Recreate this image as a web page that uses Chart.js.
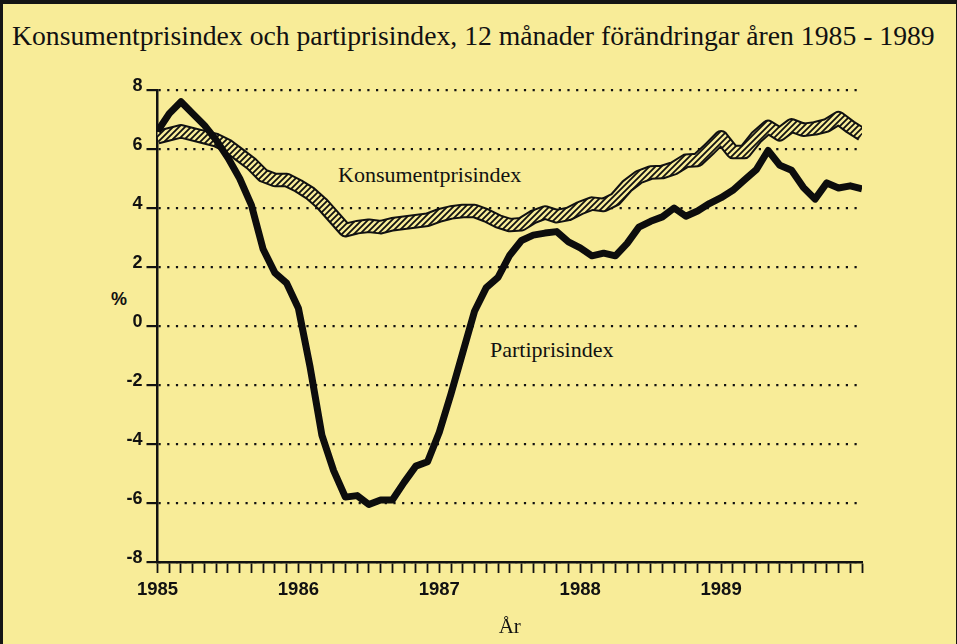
<!DOCTYPE html>
<html>
<head>
<meta charset="utf-8">
<script src="https://cdn.jsdelivr.net/npm/chart.js@4.4.0/dist/chart.umd.min.js"></script>
<style>
  body { margin: 0; background: #f8ec98; }
  #frame { position: absolute; left: 0; top: 0; width: 957px; height: 644px; box-sizing: border-box;
           border: 3px solid #151515; border-bottom: none; border-top-width: 4px; border-right-width: 1px; }
  .serif { position: absolute; font-family: "Liberation Serif", serif; color: #111; white-space: nowrap; }
  #title { left: 12px; top: 21px; font-size: 27.7px; line-height: 30px; }
  #pct { position: absolute; left: 111px; top: 289px; font: bold 18px "Liberation Sans", sans-serif; color: #111; }
  #kpiLabel { left: 338px; top: 161px; font-size: 22px; line-height: 28px; }
  #ppiLabel { left: 490px; top: 336px; font-size: 22px; line-height: 28px; }
  #c { position: absolute; left: 0; top: 0; }
</style>
</head>
<body>
<div id="frame"></div>
<div id="title" class="serif">Konsumentprisindex och partiprisindex, 12 månader förändringar åren 1985 - 1989</div>
<div id="pct">%</div>
<div id="kpiLabel" class="serif">Konsumentprisindex</div>
<div id="ppiLabel" class="serif">Partiprisindex</div>
<canvas id="c" width="957" height="644"></canvas>
<script>
// monthly 12-month changes, Jan 1985 .. Jan 1990
var yearLabels = ['1985', '1986', '1987', '1988', '1989'];
var kpi = [6.4, 6.5, 6.6, 6.5, 6.4, 6.3, 6.1, 5.8, 5.5, 5.1,
           4.95, 4.95, 4.75, 4.5, 4.15, 3.7, 3.25, 3.35, 3.4, 3.35,
           3.45, 3.5, 3.55, 3.6, 3.75, 3.85, 3.9, 3.9, 3.75, 3.55,
           3.42, 3.45, 3.7, 3.85, 3.72, 3.8, 4.0, 4.15, 4.1, 4.3,
           4.75, 5.05, 5.2, 5.22, 5.35, 5.6, 5.63, 6.0, 6.4, 5.9,
           5.9, 6.4, 6.75, 6.5, 6.8, 6.65, 6.7, 6.8, 7.05, 6.75, 6.5];
var ppi = [6.6, 7.2, 7.6, 7.2, 6.8, 6.3, 5.7, 5.0, 4.1, 2.6,
           1.8, 1.45, 0.6, -1.4, -3.7, -4.9, -5.8, -5.75, -6.05, -5.9,
           -5.9, -5.3, -4.75, -4.6, -3.6, -2.3, -0.9, 0.5, 1.3, 1.65,
           2.4, 2.9, 3.08, 3.15, 3.2, 2.85, 2.65, 2.38, 2.47, 2.38,
           2.8, 3.35, 3.55, 3.7, 4.0, 3.72, 3.9, 4.15, 4.35, 4.6,
           4.95, 5.3, 5.95, 5.45, 5.28, 4.7, 4.3, 4.85, 4.68, 4.75, 4.65];

var toPoints = function(arr) {
  var pts = [];
  for (var i = 0; i < arr.length; i++) {
    pts.push({x: i, y: arr[i]});
  }
  return pts;
};

// diagonal hatch for the consumer price band
var tile = document.createElement('canvas');
tile.width = 6; tile.height = 6;
var tctx = tile.getContext('2d');
tctx.fillStyle = '#f8ec98';
tctx.fillRect(0, 0, 6, 6);
tctx.strokeStyle = '#111';
tctx.lineWidth = 1.8;
tctx.beginPath();
tctx.moveTo(-1, 7); tctx.lineTo(7, -1);
tctx.moveTo(-1, 1); tctx.lineTo(1, -1);
tctx.moveTo(5, 7); tctx.lineTo(7, 5);
tctx.stroke();
var hatch = document.getElementById('c').getContext('2d').createPattern(tile, 'repeat');

var lineStyle = {
  pointRadius: 0,
  tension: 0,
  fill: false,
  borderJoinStyle: 'round',
  borderCapStyle: 'butt'
};

new Chart(document.getElementById('c').getContext('2d'), {
  type: 'line',
  data: {
    datasets: [
      Object.assign({label: 'Partiprisindex', data: toPoints(ppi), borderColor: '#0d0d0d', borderWidth: 7, order: 0}, lineStyle),
      Object.assign({label: 'Konsumentprisindex', data: toPoints(kpi), borderColor: hatch, borderWidth: 10.5, order: 1}, lineStyle),
      Object.assign({label: 'kpi-outline', data: toPoints(kpi), borderColor: '#111', borderWidth: 14.5, order: 2}, lineStyle)
    ]
  },
  options: {
    responsive: false,
    animation: false,
    events: [],
    layout: { padding: { left: 0, right: 95, top: 90, bottom: 0 } },
    plugins: { legend: { display: false }, tooltip: { enabled: false } },
    scales: {
      x: {
        type: 'linear',
        min: 0,
        max: 60,
        afterFit: function(scale) { scale.height = 82; },
        grid: { drawOnChartArea: false, drawTicks: true, tickLength: 11, tickWidth: 1.8, tickColor: '#111' },
        border: { display: true, color: '#111', width: 2.5 },
        ticks: {
          stepSize: 1,
          autoSkip: false,
          maxRotation: 0,
          maxTicksLimit: 100,
          padding: 6,
          color: '#111',
          font: { family: 'Liberation Sans', size: 18.5, weight: 'bold' },
          callback: function(v) {
            if (v % 12 === 0 && v / 12 < yearLabels.length) return yearLabels[v / 12];
            return '';
          }
        },
        title: {
          display: true,
          text: 'År',
          color: '#111',
          font: { family: 'Liberation Serif', size: 21 },
          padding: { top: 0, bottom: 4 }
        }
      },
      y: {
        min: -8,
        max: 8,
        afterFit: function(scale) { scale.width = 157.5; },
        grid: { color: '#111', lineWidth: 2.2, drawTicks: true, tickLength: 11, tickWidth: 2.2, tickColor: '#111' },
        border: { display: true, color: '#111', width: 2.5, dash: [2.2, 6.5] },
        ticks: {
          stepSize: 2,
          padding: 4,
          labelOffset: -4,
          color: '#111',
          font: { family: 'Liberation Sans', size: 18, weight: 'bold' }
        }
      }
    }
  }
});
</script>
</body>
</html>
